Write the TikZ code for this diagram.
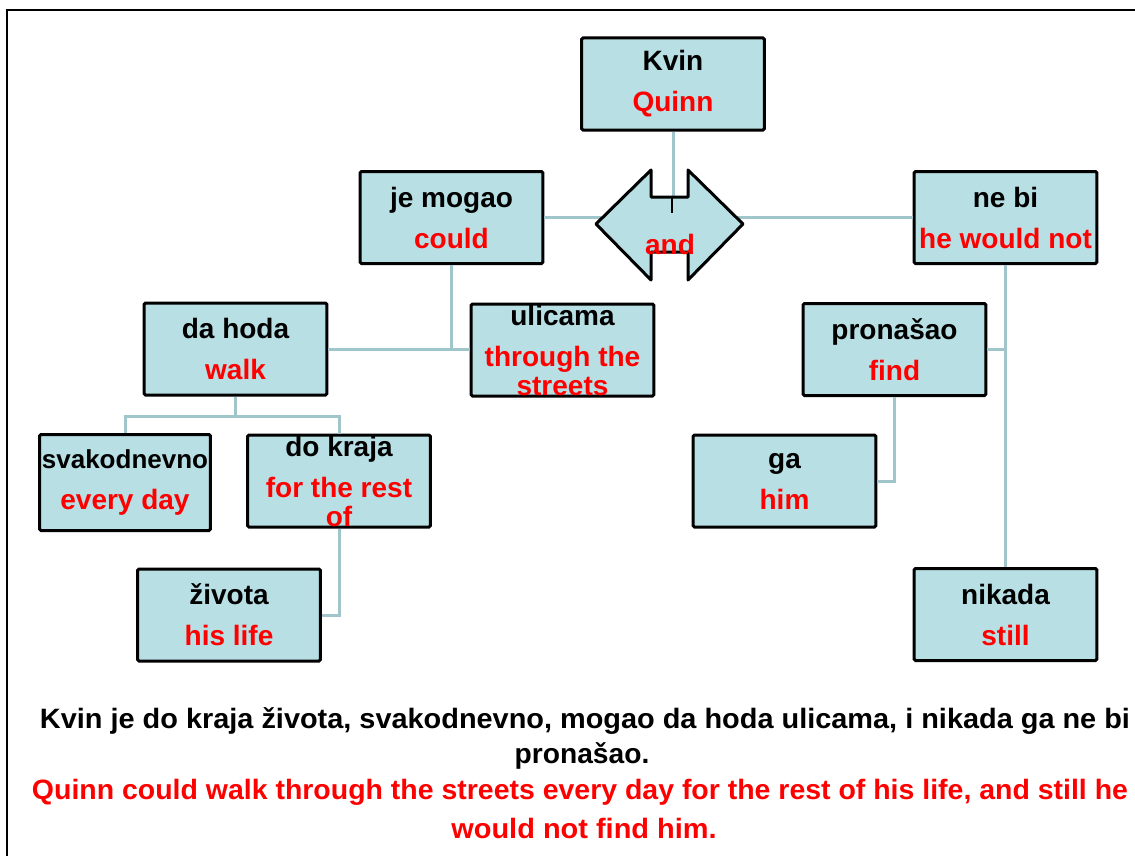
\documentclass[tikz,border=0pt]{standalone}
\usepackage{fontspec}
\setmainfont{Liberation Sans}
\usepackage{graphicx}
\usepackage{xcolor}
\usetikzlibrary{calc}

\definecolor{boxfill}{RGB}{183,223,228}
\definecolor{linkcol}{RGB}{160,198,204}
\newcommand{\eng}[1]{\textcolor{red}{#1}}

\tikzset{
  wbox/.style={draw=black, line width=2.25pt, fill=boxfill, rounded corners=1pt,
    minimum width=137pt, minimum height=69pt, inner sep=0pt, align=center,
    font=\fontsize{21}{30.75}\selectfont\bfseries},
  link/.style={draw=linkcol, line width=2.25pt},
  sent/.style={inner sep=0pt, font=\fontsize{21}{24}\selectfont\bfseries},
}

\begin{document}
\begin{tikzpicture}[x=0.75pt, y=-0.75pt]
\useasboundingbox (0,0) rectangle (1135,856);
% frame
\draw[line width=1.5pt] (7,10) rectangle (1145,866);

% coordinates for the links
\coordinate (andL) at (602,217.5);
\coordinate (andR) at (738,217.5);
\coordinate (notch) at (672,197);
\coordinate (mjoin) at (451.5,349);
\coordinate (dfork) at (235.5,416);

% words
\node[wbox] (kvin) at (673,84) {Kvin\\\eng{Quinn}};
\node[wbox] (mogao) at (451.5,217.5) {je mogao\\\eng{could}};
\node[wbox] (nebi) at (1005.5,217.5) {ne bi\\\eng{he would not}};
\node[wbox] (dahoda) at (235.5,349) {da hoda\\\eng{walk}};
\node[wbox] (ulicama) at (562.5,350) {ulicama\\\eng{through the}\\[-9pt]\eng{streets}};
\node[wbox] (pronasao) at (894.5,349.5) {pronašao\\\eng{find}};
\node[wbox] (ga) at (784.5,481) {ga\\\eng{him}};
\node[wbox] (nikada) at (1005.5,614.5) {nikada\\\eng{still}};
\node[wbox, minimum width=128pt, minimum height=72pt] (svako) at (125,482.5)
  {{\fontsize{19.5}{30.75}\selectfont svakodnevno}\\\eng{every day}};
\node[wbox] (dokraja) at (339,481) {do kraja\\\eng{for the rest}\\[-9pt]\eng{of}};
\node[wbox] (zivota) at (229,615) {života\\\eng{his life}};

% links
\draw[link] (kvin.south) -- (kvin.south |- notch);
\draw[link] (mogao.east) -- (andL);
\draw[link] (andR) -- (nebi.west);
\draw[link] (mogao.south) -- (mjoin);
\draw[link] (dahoda.east) -- (dahoda.east -| ulicama.west);
\draw[link] (nebi.south) -- (nikada.north);
\draw[link] (pronasao.east) -- (pronasao.east -| nebi.south);
\draw[link] (pronasao.south) |- (ga.east);
\draw[link] (dahoda.south) -- (dfork);
\draw[link] (svako.north) |- (dfork) -| (dokraja.north);
\draw[link] (dokraja.south) |- (zivota.east);

% the "and" shape
\draw[line width=2.25pt, fill=boxfill, line join=round]
  (596,224) -- (651,170) -- (651,197) -- (688,197) -- (688,170) -- (743,224)
  -- (688,280) -- (688,252) -- (651,252) -- (651,280) -- cycle;
\draw[line width=1.5pt] (notch) -- ++(0,16);
\node[font=\fontsize{21}{24}\selectfont\bfseries, text=red, inner sep=0pt] (and) at (670,244) {and};

% sentence
\node[sent] (sr1) at (585,721) {\resizebox{817.5pt}{\height}{Kvin je do kraja života, svakodnevno, mogao da hoda ulicama, i nikada ga ne bi}};
\node[sent] (sr2) at (582,756) {\resizebox{101pt}{\height}{pronašao.}};
\node[sent, text=red] (en1) at (580,792) {\resizebox{822pt}{\height}{Quinn could walk through the streets every day for the rest of his life, and still he}};
\node[sent, text=red] (en2) at (584,828) {\resizebox{199pt}{\height}{would not find him.}};
\end{tikzpicture}
\end{document}
